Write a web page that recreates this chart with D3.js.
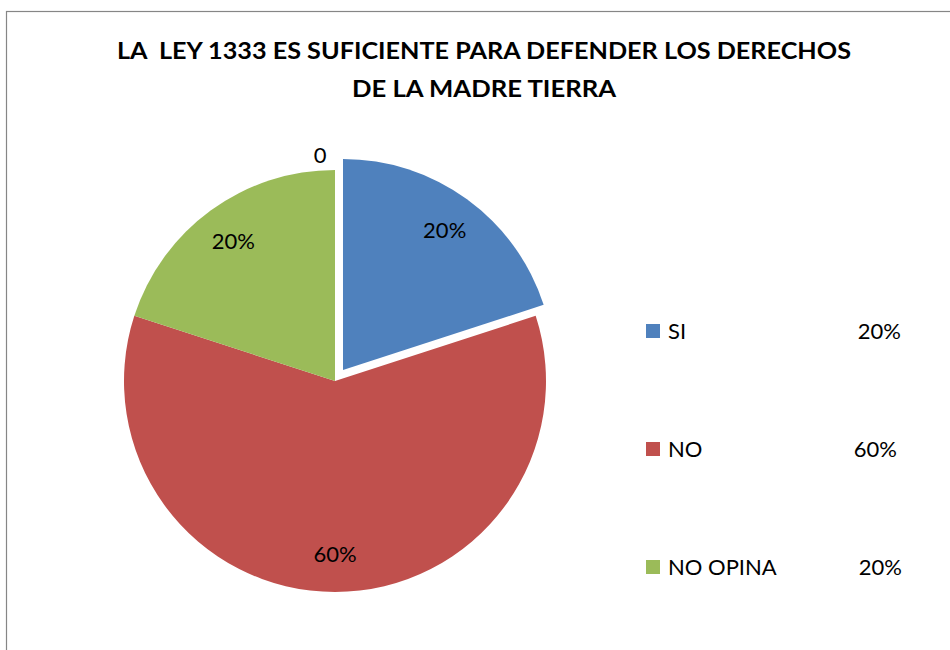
<!DOCTYPE html>
<html>
<head>
<meta charset="utf-8">
<script src="https://cdn.jsdelivr.net/npm/d3@7"></script>
<style>
  html, body { margin: 0; padding: 0; background: #fff; }
  svg { display: block; }
  text { font-family: Lato, "Open Sans", "Liberation Sans", sans-serif; fill: #000; white-space: pre; }
</style>
</head>
<body>
<svg id="chart" width="950" height="650"></svg>
<script>
const titleLines = ["LA  LEY 1333 ES SUFICIENTE PARA DEFENDER LOS DERECHOS", "DE LA MADRE TIERRA"];
const categories = ["SI", "NO", "NO OPINA"];
const values = [20, 60, 20];
const dataLabels = ["20%", "60%", "20%"];
const legendValues = ["20%", "60%", "20%"];
const colors = ["#4F81BD", "#C0504D", "#9BBB59"];
const extraLabel = "0";

const svg = d3.select("#chart");

// frame
svg.append("rect")
  .attr("x", 6.5).attr("y", 11.5)
  .attr("width", 1000).attr("height", 700)
  .attr("fill", "#fff").attr("stroke", "#868686").attr("stroke-width", 1.2);

// title
svg.append("g").selectAll("text").data(titleLines).join("text")
  .attr("xml:space", "preserve")
  .attr("x", 484)
  .attr("y", (d, i) => 59 + i * 38)
  .attr("text-anchor", "middle")
  .attr("font-weight", "bold")
  .attr("font-size", 22)
  .attr("textLength", (d, i) => i === 0 ? 734 : 264)
  .attr("lengthAdjust", "spacingAndGlyphs")
  .text(d => d);

// pie
const cx = 335, cy = 381, R = 211, explode = 13.6;
const data = categories.map((c, i) => ({ cat: c, value: values[i], color: colors[i], label: dataLabels[i], idx: i }));
const pie = d3.pie().value(d => d.value).sort(null).startAngle(0).endAngle(2 * Math.PI);
const arcs = pie(data);
const arc = d3.arc().innerRadius(0).outerRadius(R);
const labelArc = d3.arc().innerRadius(R * 0.82).outerRadius(R * 0.82);

const g = svg.append("g").attr("transform", `translate(${cx},${cy})`);

function offset(d) {
  if (d.data.idx !== 0) return [0, 0];
  const a = (d.startAngle + d.endAngle) / 2;
  return [Math.sin(a) * explode, -Math.cos(a) * explode];
}

g.selectAll("path.slice").data(arcs).join("path")
  .attr("class", "slice")
  .attr("d", arc)
  .attr("fill", d => d.data.color)
  .attr("transform", d => { const o = offset(d); return `translate(${o[0]},${o[1]})`; });

g.selectAll("text.dl").data(arcs).join("text")
  .attr("class", "dl")
  .attr("transform", d => {
    const c = labelArc.centroid(d); const o = offset(d);
    return `translate(${c[0] + o[0]},${c[1] + o[1]})`;
  })
  .attr("text-anchor", "middle")
  .attr("dy", "0.35em")
  .attr("font-size", 22)
  .text(d => d.data.label);

// stray zero label at the top of the pie
const zeroArc = d3.arc().innerRadius(R + 15).outerRadius(R + 15);
const zc = zeroArc.centroid({ startAngle: 2 * Math.PI, endAngle: 2 * Math.PI });
g.append("text")
  .attr("x", zc[0] - 15).attr("y", zc[1])
  .attr("text-anchor", "middle")
  .attr("dy", "0.35em")
  .attr("font-size", 22)
  .text(extraLabel);

// legend
const ly = d3.scaleBand().domain(categories).range([272, 626]);
const lg = svg.append("g");
const items = lg.selectAll("g").data(data).join("g")
  .attr("transform", d => `translate(0,${ly(d.cat) + ly.bandwidth() / 2})`);
items.append("rect")
  .attr("x", 646).attr("y", -7).attr("width", 14).attr("height", 14)
  .attr("fill", d => d.color);
items.append("text")
  .attr("x", 668).attr("dy", "0.35em").attr("font-size", 22)
  .text(d => d.cat);
items.append("text")
  .attr("x", (d, i) => [901, 897, 902][i])
  .attr("text-anchor", "end")
  .attr("dy", "0.35em").attr("font-size", 22)
  .text((d, i) => legendValues[i]);
</script>
</body>
</html>
